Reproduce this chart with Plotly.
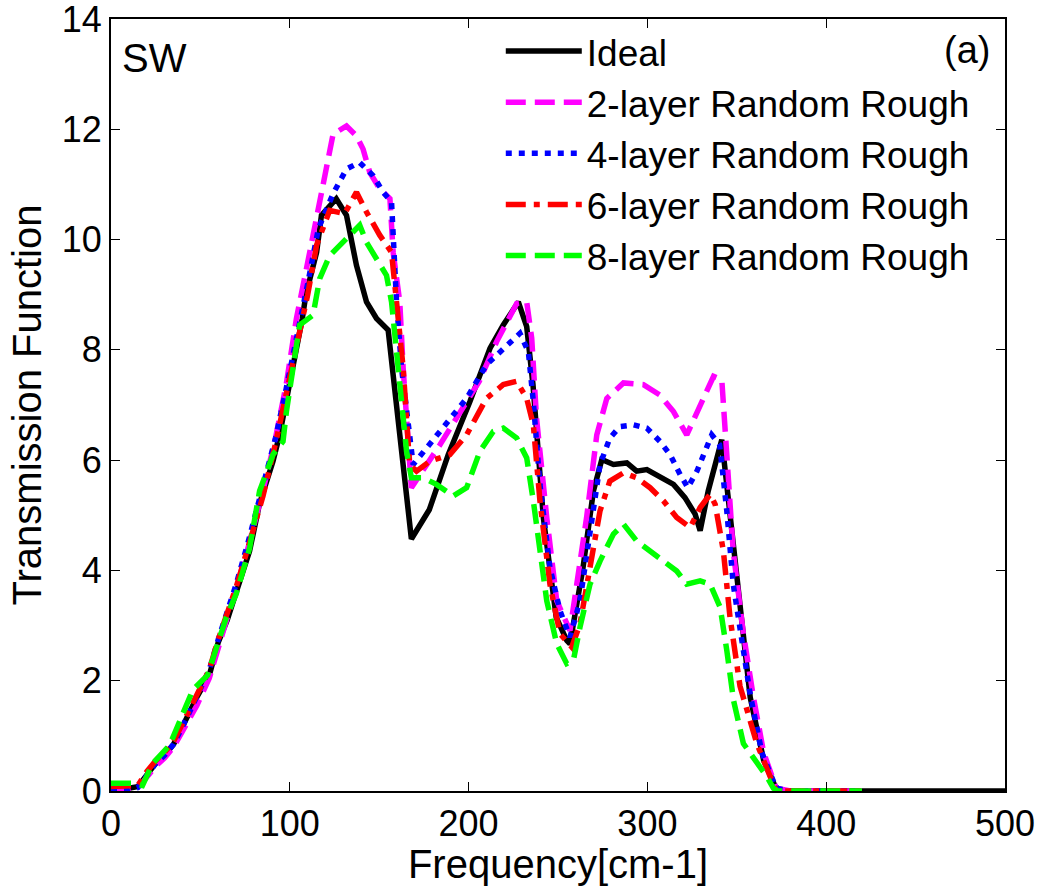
import plotly.graph_objects as go

# ---------------- data ----------------
ideal_x = [0, 10, 15, 20, 25, 30, 35, 42, 48, 55, 60, 65, 70, 77.5, 83, 90.6, 94.3, 100, 107, 109,
           115, 117.7, 126, 131.7, 137.3, 142.9, 148.5, 155, 168, 178, 188.6, 200.7, 212, 219.4,
           227.8, 232.5, 236, 241.8, 249, 254.9, 256.7, 264, 269.8, 274.5, 281, 288.5, 294, 299.7,
           307, 314.6, 321, 326.7, 329.5, 334, 341.6, 344.4, 348, 352, 357.5, 365, 371.5, 375, 500]
ideal_y = [0.05, 0.05, 0.08, 0.3, 0.5, 0.65, 0.85, 1.3, 1.7, 2.1, 2.7, 3.1, 3.6, 4.35, 5.2, 5.98,
           6.46, 7.37, 8.57, 9.0, 9.77, 10.44, 10.74, 10.44, 9.53, 8.87, 8.57, 8.36, 4.57, 5.1,
           6.1, 7.06, 8.03, 8.45, 8.87, 8.42, 7.37, 4.96, 3.15, 2.73, 2.67, 4.05, 5.44, 6.01, 5.92,
           5.95, 5.8, 5.83, 5.71, 5.56, 5.32, 5.02, 4.72, 5.44, 6.37, 5.56, 4.35, 3.15, 1.7, 0.56,
           0.08, 0.0, 0.0]

l2_x = [0, 10, 15, 20, 25, 30, 35, 42, 48, 55, 60, 65, 70, 77, 85, 92, 98, 103.7, 109.3, 115,
        120.5, 124.2, 131.7, 137.3, 141, 144.7, 150.3, 156, 157.8, 161.5, 163.4, 168, 184, 197,
        206, 215.7, 226.9, 232.5, 235.3, 238, 243.7, 249.3, 256.7, 260.5, 266, 271.7, 277.3,
        286.6, 297.8, 307, 314.6, 322, 329.5, 337, 341.6, 344.4, 348, 353.7, 359.3, 365, 372,
        380, 420]
l2_y = [0.0, 0.0, 0.05, 0.25, 0.45, 0.6, 0.8, 1.2, 1.55, 2.05, 2.6, 3.1, 3.65, 4.45, 5.45, 6.4,
        7.37, 8.57, 9.47, 10.44, 11.4, 11.91, 12.06, 11.88, 11.64, 11.22, 10.92, 10.74, 9.77,
        8.87, 7.67, 5.5, 6.28, 6.94, 7.43, 8.15, 8.84, 8.87, 8.21, 6.76, 4.96, 3.45, 2.91, 3.75,
        4.96, 6.46, 7.12, 7.4, 7.37, 7.18, 6.88, 6.46, 7.0, 7.52, 7.46, 6.16, 4.35, 2.85, 1.7,
        0.7, 0.05, 0.0, 0.0]

l4_x = [0, 10, 15, 20, 25, 30, 35, 42, 48, 55, 60, 65, 70, 77, 85, 92, 98, 104, 110, 116, 124.2,
        131.7, 139, 146.6, 152.2, 156.9, 157.8, 159.7, 162.5, 169, 176.5, 187.7, 198.9, 210,
        221.3, 228.7, 233.4, 236.2, 239.9, 245.5, 251.1, 256.7, 262.3, 267.9, 273.5, 279,
        284.7, 292.2, 299.7, 307, 312.7, 318.3, 322.6, 327.7, 333.3, 336, 340.4, 344.4, 348,
        353.7, 357.4, 364, 372, 380, 420]
l4_y = [0.02, 0.02, 0.06, 0.3, 0.5, 0.65, 0.85, 1.3, 1.7, 2.2, 2.75, 3.25, 3.75, 4.55, 5.5, 6.4,
        7.3, 8.2, 9.2, 10.2, 10.83, 11.28, 11.4, 11.16, 10.86, 10.68, 10.08, 8.87, 7.67, 5.92,
        6.22, 6.67, 7.12, 7.73, 8.09, 8.3, 7.97, 7.06, 5.56, 4.05, 3.27, 2.79, 3.45, 4.66, 5.92,
        6.4, 6.61, 6.64, 6.58, 6.34, 6.1, 5.74, 5.5, 5.8, 6.28, 6.46, 6.28, 5.08, 3.75, 2.55,
        1.77, 0.7, 0.05, 0.0, 0.0]

l6_x = [0, 10, 15, 20, 25, 30, 35, 42, 48, 55, 60, 65, 70, 77, 85, 92, 98, 104, 110, 115, 122.3,
        130.7, 137.3, 142.9, 150.3, 156.9, 157.8, 160.6, 163.4, 167, 170.9, 178.3, 189.5, 198.9,
        210, 219.4, 226.9, 232.5, 236.2, 239.9, 245.5, 251.1, 257.7, 262.3, 267.9, 273.5, 279,
        286.6, 294.1, 301.5, 309, 316.4, 323.9, 329.5, 335.1, 337.9, 342.5, 346.2, 351.8,
        361.2, 368.7, 372, 380, 420]
l6_y = [0.08, 0.08, 0.1, 0.35, 0.55, 0.7, 0.9, 1.35, 1.75, 2.2, 2.75, 3.2, 3.7, 4.45, 5.35, 6.3,
        7.2, 8.1, 9.0, 9.9, 10.53, 10.47, 10.86, 10.5, 10.08, 9.77, 9.47, 8.57, 7.67, 5.92, 5.8,
        5.98, 6.1, 6.46, 7.12, 7.37, 7.43, 7.12, 6.64, 5.26, 3.75, 2.85, 2.61, 3.03, 4.05, 5.08,
        5.62, 5.77, 5.68, 5.5, 5.26, 4.96, 4.78, 5.14, 5.38, 5.2, 4.35, 3.15, 1.9, 0.86, 0.26,
        0.0, 0.0, 0.0]

l8_x = [0, 13, 17.6, 23.3, 32.8, 40, 45.7, 54, 59, 64.5, 70, 77.5, 83.1, 90.6, 96.2, 98.1,
        101.8, 105.5, 113, 116.7, 122.3, 129.8, 134.5, 139.1, 142.9, 148.5, 154.1, 156.9, 159.7,
        162.5, 165.3, 168, 174.6, 182, 191.4, 198.9, 206.3, 213.8, 219.4, 226.9, 232.5, 236.2,
        239.9, 243.7, 249.3, 254.9, 258.6, 262.3, 267.9, 273.5, 281, 286.6, 294.1, 301.5, 309,
        316.4, 322, 329.5, 335.1, 340.7, 344.4, 348.2, 353.7, 359.3, 366.8, 370.5, 373, 380, 420]
l8_y = [0.14, 0.14, 0.1, 0.5, 0.83, 1.4, 1.83, 2.1, 2.6, 3.15, 3.57, 4.4, 5.44, 6.1, 6.34, 6.88,
        7.67, 8.45, 8.63, 9.29, 9.71, 9.95, 10.08, 10.26, 9.95, 9.65, 9.35, 8.87, 7.97, 7.18,
        6.16, 5.68, 5.68, 5.56, 5.35, 5.5, 6.16, 6.52, 6.58, 6.4, 6.04, 5.26, 4.35, 3.45, 2.67,
        2.31, 2.37, 2.97, 3.75, 4.17, 4.66, 4.84, 4.53, 4.35, 4.17, 3.99, 3.75, 3.81, 3.75, 3.33,
        2.55, 1.64, 0.86, 0.62, 0.26, 0.05, 0.0, 0.0, 0.0]

series_names = ["Ideal", "2-layer Random Rough", "4-layer Random Rough",
                "6-layer Random Rough", "8-layer Random Rough"]
x_ticks = [0, 100, 200, 300, 400, 500]
y_ticks = [0, 2, 4, 6, 8, 10, 12, 14]

# ---------------- figure ----------------
FONT = "Liberation Sans, Arial, sans-serif"
series = [
    (ideal_x, ideal_y, "#000000", "solid"),
    (l2_x, l2_y, "#ff00ff", "20px,9px"),
    (l4_x, l4_y, "#0000ff", "6px,7px"),
    (l6_x, l6_y, "#ff0000", "20px,8px,6px,8px"),
    (l8_x, l8_y, "#00ff00", "20px,9px"),
]

fig = go.Figure()
for (xs, ys, col, dash), name in zip(series, series_names):
    fig.add_trace(go.Scatter(x=xs, y=ys, mode="lines", name=name,
                             line=dict(color=col, width=5.5, dash=dash)))

axis_common = dict(showline=True, linecolor="black", linewidth=2, mirror="ticks",
                   ticks="inside", ticklen=9, tickwidth=1, tickcolor="black",
                   showgrid=False, zeroline=False, ticklabeloverflow="allow",
                   automargin=False,
                   tickfont=dict(family=FONT, size=36, color="black"))

fig.update_layout(
    width=1042, height=886,
    margin=dict(l=111, r=37, t=19, b=95, autoexpand=False),
    plot_bgcolor="white", paper_bgcolor="white",
    font=dict(family=FONT, size=36, color="black"),
    showlegend=True,
    legend=dict(x=0.436, y=0.998, xanchor="left", yanchor="top",
                bgcolor="rgba(0,0,0,0)", borderwidth=0,
                font=dict(family=FONT, size=37, color="black"),
                tracegroupgap=0, itemwidth=76),
    xaxis=dict(range=[0, 500], tickvals=x_ticks, ticktext=[str(v) for v in x_ticks],
               title=dict(text="Frequency[cm-1]", font=dict(family=FONT, size=40), standoff=0),
               **axis_common),
    yaxis=dict(range=[0, 14], tickvals=y_ticks, ticktext=[str(v) for v in y_ticks],
               title=dict(text="Transmission Function", font=dict(family=FONT, size=40),
                          standoff=8),
               **axis_common),
)

fig.add_annotation(x=0.01, y=0.95, xref="paper", yref="paper", text="SW",
                   showarrow=False, xanchor="left", yanchor="middle",
                   font=dict(family=FONT, size=40, color="black"))
fig.add_annotation(x=0.985, y=0.96, xref="paper", yref="paper", text="(a)",
                   showarrow=False, xanchor="right", yanchor="middle",
                   font=dict(family=FONT, size=38, color="black"))

fig.write_html("out.html")
